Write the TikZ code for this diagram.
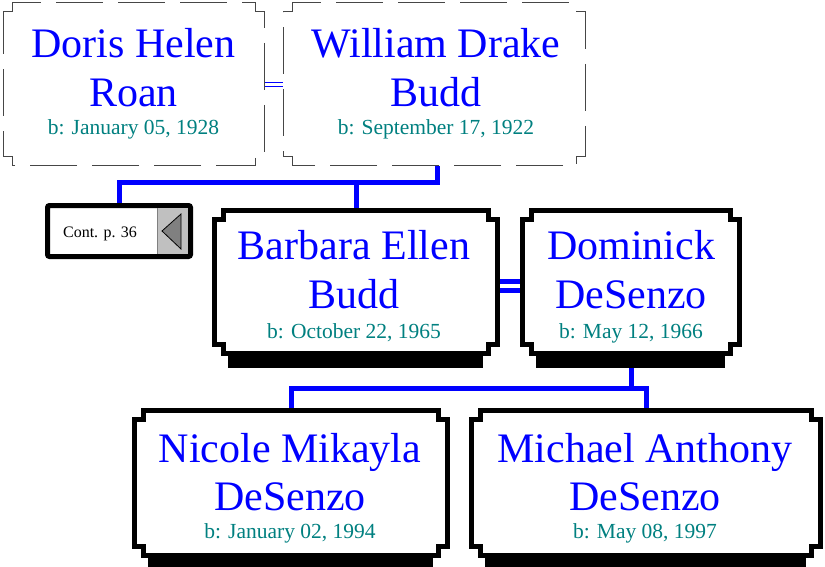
\documentclass[tikz,border=0pt]{standalone}
\usepackage{fontspec}
\setmainfont{Liberation Serif}
\usetikzlibrary{calc}

\definecolor{namecolor}{RGB}{0,0,255}
\definecolor{datecolor}{RGB}{0,128,128}
\definecolor{dashcolor}{RGB}{70,70,70}
\definecolor{panelgray}{RGB}{192,192,192}

% frame with stepped corners round a named node
\newcommand{\notchframe}[2]{%
  \draw[#1] let \p1 = (#2.north west), \p2 = (#2.south east) in
    (\x1, \y1 - 9pt) -- (\x1 + 9pt, \y1 - 9pt) -- (\x1 + 9pt, \y1)
    -- (\x2 - 9pt, \y1) -- (\x2 - 9pt, \y1 - 9pt) -- (\x2, \y1 - 9pt)
    -- (\x2, \y2 + 9pt) -- (\x2 - 9pt, \y2 + 9pt) -- (\x2 - 9pt, \y2)
    -- (\x1 + 9pt, \y2) -- (\x1 + 9pt, \y2 + 9pt) -- (\x1, \y2 + 9pt) -- cycle;}
\newcommand{\dropshadow}[1]{%
  \fill let \p1 = (#1.north west), \p2 = (#1.south east) in
    (\x1 + 13pt, \y2) rectangle (\x2 - 15pt, \y2 - 15pt);}

\tikzset{
    personbox/.style = {rectangle, inner sep = 0pt, outer sep = 0pt},
    nametext/.style = {anchor = base, inner sep = 0pt, text = namecolor, font = \fontsize{42}{42}\selectfont},
    datetext/.style = {anchor = base, inner sep = 0pt, text = datecolor, font = \fontsize{21.5}{21.5}\selectfont},
    descent/.style = {draw = namecolor, line width = 5pt},
    spouse/.style = {draw = namecolor, double = white, double distance = 2.5pt, line width = 0.9pt},
    couple/.style = {draw = namecolor, double = white, double distance = 4pt, line width = 5pt},
    dashedframe/.style = {draw = dashcolor, line width = 1pt, dash pattern = on 47pt off 15pt, fill = white},
    solidframe/.style = {draw = black, line width = 5pt, fill = white}
}

\begin{document}
\begin{tikzpicture}[x = 1pt, y = -1pt]
    \useasboundingbox (0, 0) rectangle (825, 567);

    \node[personbox, minimum width = 261pt, minimum height = 163pt] (doris) at (133.5, 84.5) {};
    \node[personbox, minimum width = 302pt, minimum height = 163pt] (william) at (434, 84.5) {};
    \node[personbox, minimum width = 143pt, minimum height = 51pt] (cont) at (119, 231) {};
    \node[personbox, minimum width = 283pt, minimum height = 143pt] (barbara) at (356, 281.5) {};
    \node[personbox, minimum width = 217pt, minimum height = 143pt] (dominick) at (631, 281.5) {};
    \node[personbox, minimum width = 313pt, minimum height = 145pt] (nicole) at (291, 483) {};
    \node[personbox, minimum width = 349pt, minimum height = 145pt] (michael) at (646, 483) {};

    \coordinate (parentbar) at (0, 183);
    \coordinate (childbar) at (0, 388);

    \draw[descent] ([xshift = 3pt]william.south) |- (cont.north |- parentbar) -- (cont.north);
    \draw[descent] (barbara.north) -- (barbara.north |- parentbar);
    \draw[descent] (dominick.south) -- (dominick.south |- childbar);
    \draw[descent] (nicole.north) |- (childbar -| michael.north) -- (michael.north);
    \draw[spouse] (doris.east) -- (william.west);
    \draw[couple] ([yshift = -4pt]barbara.east) -- ([yshift = -4pt]dominick.west);

    \notchframe{dashedframe}{doris}
    \notchframe{dashedframe}{william}
    \dropshadow{barbara}
    \dropshadow{dominick}
    \dropshadow{nicole}
    \dropshadow{michael}
    \notchframe{solidframe}{barbara}
    \notchframe{solidframe}{dominick}
    \notchframe{solidframe}{nicole}
    \notchframe{solidframe}{michael}

    \draw[solidframe, rounded corners = 2pt] (cont.north west) rectangle (cont.south east);
    \fill[panelgray] (157, 208) rectangle (188, 254);
    \draw[gray, line width = 0.8pt] (157, 208) -- (157, 254);
    \filldraw[fill = gray, draw = black, line width = 0.8pt] (162, 231) -- (181, 214) -- (181, 249) -- cycle;
    \node[anchor = base, inner sep = 0pt, font = \fontsize{16}{16}\selectfont] (contlabel) at (100, 237) {Cont. p. 36};

    \node[nametext] (doris1) at (133.5, 58) {Doris Helen};
    \node[nametext] (doris2) at (133.5, 107) {Roan};
    \node[datetext] (dorisdate) at (133.5, 135) {b: January 05, 1928};

    \node[nametext] (william1) at (436, 58) {William Drake};
    \node[nametext] (william2) at (436, 107) {Budd};
    \node[datetext] (williamdate) at (436, 135) {b: September 17, 1922};

    \node[nametext] (barbara1) at (354, 259) {Barbara Ellen};
    \node[nametext] (barbara2) at (354, 308) {Budd};
    \node[datetext] (barbaradate) at (354, 338) {b: October 22, 1965};

    \node[nametext] (dominick1) at (631, 259) {Dominick};
    \node[nametext] (dominick2) at (631, 308) {DeSenzo};
    \node[datetext] (dominickdate) at (631, 338) {b: May 12, 1966};

    \node[nametext] (nicole1) at (290, 462) {Nicole Mikayla};
    \node[nametext] (nicole2) at (290, 510) {DeSenzo};
    \node[datetext] (nicoledate) at (290, 538) {b: January 02, 1994};

    \node[nametext] (michael1) at (645, 462) {Michael Anthony};
    \node[nametext] (michael2) at (645, 510) {DeSenzo};
    \node[datetext] (michaeldate) at (645, 538) {b: May 08, 1997};
\end{tikzpicture}
\end{document}
